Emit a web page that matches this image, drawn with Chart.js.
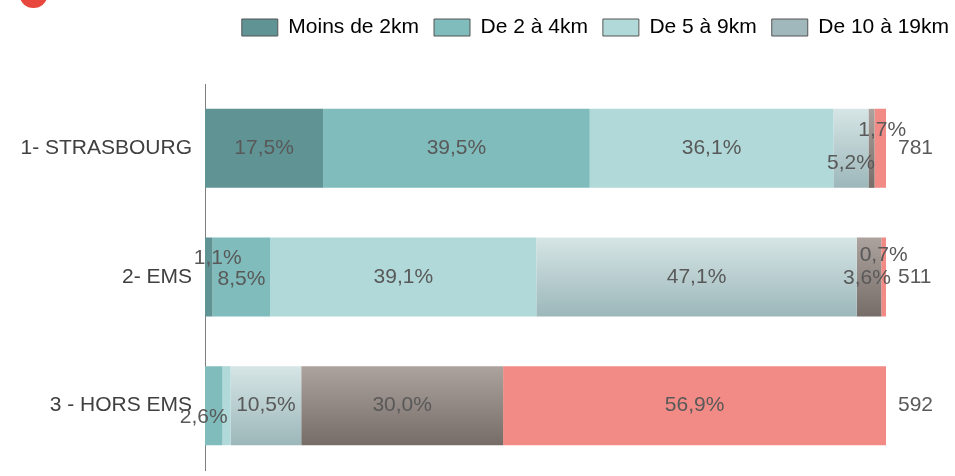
<!DOCTYPE html>
<html>
<head>
<meta charset="utf-8">
<script src="https://cdn.jsdelivr.net/npm/chart.js@4/dist/chart.umd.min.js"></script>
<style>
  html, body { margin: 0; padding: 0; background: #fff; overflow: hidden; }
  .wrap { position: relative; width: 955px; height: 476px; }
  .blob { position: absolute; left: 20px; top: -16px; width: 27px; height: 24px; border-radius: 50%; background: #e8473d; }
</style>
</head>
<body>
<div class="wrap">
  <div class="blob"></div>
  <canvas id="myChart" width="955" height="476"></canvas>
</div>
<script>
const categories = ["1- STRASBOURG", "2- EMS", "3 - HORS EMS"];
const seriesNames = ["Moins de 2km", "De 2 à 4km", "De 5 à 9km", "De 10 à 19km", "De 20 à 49km", "50km et plus"];

// percentages per series, one value per category
const moins2 = [17.5, 1.1, 0];
const de2a4 = [39.5, 8.5, 2.6];
const de5a9 = [36.1, 39.1, 1.2];
const de10a19 = [5.2, 47.1, 10.5];
const de20a49 = [0.9, 3.6, 30.0];
const plus50 = [1.7, 0.7, 56.9];

const totals = [781, 511, 592];

const allSeries = [moins2, de2a4, de5a9, de10a19, de20a49, plus50];

// labels not drawn (too small in the original)
const hiddenLabels = ["4-0", "0-2", "2-2"];
// label nudges [dx, dy] keyed "dataset-index"
const labelShift = {
  "3-0": [0, 15], "5-0": [2, -18],
  "0-1": [9, -19], "1-1": [0, 2], "5-1": [0, -22], "4-1": [-2, 1],
  "1-2": [-10, 12]
};

const legendColors = ["#5f9394", "#7fbcbb", "#b1d9d9", "#a0b8bb", "#8e8480", "#f28b85"];
const gradStops = {
  3: ["#d6e5e5", "#9cb7ba"],
  4: ["#aca29e", "#766c68"]
};

const BAR_HALF = 39.5;
const LEGEND_PAD = 15;
// the plot runs to the right edge (legend sits there); bars end at 100 %
const X_MAX = 109.25;

const sums = categories.map((c, i) => allSeries.reduce((s, arr) => s + arr[i], 0));

const barColor = (dsIndex) => (context) => {
  const stops = gradStops[dsIndex];
  if (!stops) return legendColors[dsIndex];
  const chart = context.chart;
  if (!chart.chartArea || context.dataIndex === undefined) return legendColors[dsIndex];
  const y = chart.scales.y.getPixelForValue(context.dataIndex);
  const g = chart.ctx.createLinearGradient(0, y - BAR_HALF, 0, y + BAR_HALF);
  g.addColorStop(0, stops[0]);
  g.addColorStop(1, stops[1]);
  return g;
};

const datasets = allSeries.map((arr, d) => ({
  label: seriesNames[d],
  data: arr.map((v, i) => v / sums[i] * 100),
  raw: arr,
  backgroundColor: barColor(d),
  borderWidth: 0,
  barPercentage: 1,
  categoryPercentage: 0.614
}));

const fmt = (v) => v.toFixed(1).replace(".", ",") + "%";

const labelPlugin = {
  id: "segLabels",
  afterDatasetsDraw(chart) {
    const ctx = chart.ctx;
    ctx.save();
    ctx.font = "21px 'Liberation Sans', Arial, sans-serif";
    ctx.fillStyle = "#595959";
    ctx.textBaseline = "middle";
    ctx.textAlign = "center";
    chart.data.datasets.forEach((ds, d) => {
      const meta = chart.getDatasetMeta(d);
      meta.data.forEach((bar, i) => {
        const key = d + "-" + i;
        if (ds.raw[i] <= 0 || hiddenLabels.includes(key)) return;
        const shift = labelShift[key] || [0, 0];
        const cx = (bar.x + bar.base) / 2 + shift[0];
        ctx.fillText(fmt(ds.raw[i]), cx, bar.y + shift[1]);
      });
    });
    // totals at end of each bar
    ctx.textAlign = "left";
    const xEnd = chart.scales.x.getPixelForValue(100);
    totals.forEach((t, i) => {
      ctx.fillText(String(t), xEnd + 12, chart.scales.y.getPixelForValue(i));
    });
    ctx.restore();
  }
};

const legendSpace = {
  id: "legendSpace",
  beforeInit(chart) {
    const fit = chart.legend.fit;
    chart.legend.fit = function () {
      fit.bind(chart.legend)();
      this.height += 36;
    };
  },
  afterLayout(chart) {
    // drop the trailing item padding so the last label reaches the edge
    chart.legend.left += LEGEND_PAD;
    chart.legend.right += LEGEND_PAD;
  }
};

const ctx = document.getElementById("myChart").getContext("2d");
const myChart = new Chart(ctx, {
  type: "bar",
  data: { labels: categories, datasets: datasets },
  options: {
    indexAxis: "y",
    responsive: false,
    animation: false,
    layout: { padding: { top: 2, right: 6, bottom: 6, left: 0 } },
    scales: {
      x: { stacked: true, min: 0, max: X_MAX, display: false },
      y: {
        stacked: true,
        grid: { display: false, drawTicks: false },
        border: { display: true, color: "#7f7f7f", width: 1 },
        ticks: {
          padding: 13,
          color: "#404040",
          font: { family: "'Liberation Sans', Arial, sans-serif", size: 21 }
        },
        afterFit: (axis) => {
          axis.width = 205;
          axis.paddingTop = 0;
          axis.paddingBottom = 0;
        }
      }
    },
    plugins: {
      tooltip: { enabled: false },
      legend: {
        position: "top",
        align: "end",
        labels: {
          boxWidth: 36,
          boxHeight: 17,
          padding: LEGEND_PAD,
          color: "#595959",
          font: { family: "'Liberation Sans', Arial, sans-serif", size: 21 },
          filter: (item) => item.datasetIndex < 4,
          generateLabels: (chart) => chart.data.datasets.map((ds, i) => ({
            text: ds.label,
            fillStyle: legendColors[i],
            strokeStyle: "#555555",
            lineWidth: 1,
            datasetIndex: i,
            hidden: false
          }))
        }
      }
    }
  },
  plugins: [labelPlugin, legendSpace]
});
</script>
</body>
</html>
